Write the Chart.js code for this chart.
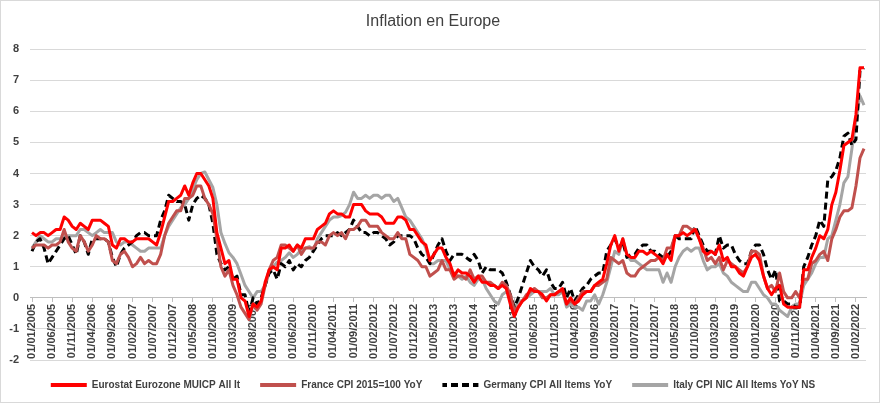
<!DOCTYPE html>
<html>
<head>
<meta charset="utf-8">
<script src="https://cdn.jsdelivr.net/npm/chart.js@4.4.1/dist/chart.umd.min.js"></script>
<style>
  html, body { margin: 0; padding: 0; background: #fff; }
  #wrap { width: 880px; height: 403px; }
</style>
</head>
<body>
<div id="wrap"><canvas id="chart"></canvas></div>
<script>
// Monthly YoY inflation, 01/2005 -> 04/2022
const firstYear = 2005;
const labelEvery = 5;
const yTicks = { min: -2, max: 8, step: 1 };

const eurozone = [
  2.1, 2.0, 2.1, 2.1, 2.0, 2.1, 2.2, 2.2, 2.6, 2.5, 2.3, 2.2,
  2.4, 2.3, 2.2, 2.5, 2.5, 2.5, 2.4, 2.3, 1.7, 1.6, 1.9, 1.9,
  1.8, 1.8, 1.9, 1.9, 1.9, 1.9, 1.8, 1.7, 2.1, 2.6, 3.1, 3.1,
  3.2, 3.3, 3.6, 3.3, 3.7, 4.0, 4.0, 3.8, 3.6, 3.2, 2.1, 1.6,
  1.1, 1.2, 0.6, 0.6, 0.0, -0.1, -0.6, -0.2, -0.3, -0.1, 0.5, 0.9,
  1.0, 0.9, 1.6, 1.6, 1.7, 1.5, 1.7, 1.6, 1.9, 1.9, 1.9, 2.2,
  2.3, 2.4, 2.7, 2.8, 2.7, 2.7, 2.6, 2.6, 3.0, 3.0, 3.0, 2.8,
  2.7, 2.7, 2.7, 2.6, 2.4, 2.4, 2.4, 2.6, 2.6, 2.5, 2.2, 2.2,
  2.0, 1.8, 1.7, 1.2, 1.4, 1.6, 1.6, 1.3, 1.1, 0.7, 0.9, 0.8,
  0.8, 0.7, 0.5, 0.7, 0.5, 0.5, 0.4, 0.4, 0.3, 0.4, 0.3, -0.2,
  -0.6, -0.3, -0.1, 0.0, 0.3, 0.2, 0.2, 0.1, -0.1, 0.1, 0.1, 0.2,
  0.3, -0.2, 0.0, -0.2, -0.1, 0.1, 0.2, 0.2, 0.4, 0.5, 0.6, 1.1,
  1.7, 2.0, 1.5, 1.9, 1.4, 1.3, 1.3, 1.5, 1.5, 1.4, 1.5, 1.4,
  1.3, 1.1, 1.4, 1.2, 2.0, 2.0, 2.1, 2.0, 2.1, 2.2, 1.9, 1.5,
  1.4, 1.5, 1.4, 1.7, 1.2, 1.3, 1.0, 1.0, 0.8, 0.7, 1.0, 1.3,
  1.4, 1.2, 0.7, 0.3, 0.1, 0.3, 0.4, -0.2, -0.3, -0.3, -0.3, -0.3,
  0.9, 0.9, 1.3, 1.6, 2.0, 1.9, 2.2, 3.0, 3.4, 4.1, 4.9, 5.0,
  5.1, 5.9, 7.4, 7.4
];

const france = [
  1.6, 1.7, 1.7, 1.7, 1.6, 1.7, 1.7, 1.8, 2.2, 1.8, 1.6, 1.5,
  2.0, 1.8, 1.5, 1.7, 2.0, 1.9, 1.9, 1.8, 1.2, 1.1, 1.4, 1.5,
  1.3, 1.0, 1.1, 1.3, 1.1, 1.2, 1.1, 1.1, 1.4, 2.0, 2.4, 2.6,
  2.8, 2.8, 3.2, 3.2, 3.3, 3.6, 3.6, 3.2, 3.0, 2.7, 1.9, 1.0,
  0.7, 0.9, 0.4, 0.1, -0.3, -0.5, -0.7, -0.2, -0.4, -0.2, 0.4, 0.9,
  1.2, 1.3, 1.7, 1.7, 1.6, 1.5, 1.7, 1.4, 1.6, 1.6, 1.6, 1.8,
  1.8, 1.7, 2.0, 2.1, 2.0, 2.1, 1.9, 2.2, 2.2, 2.3, 2.5, 2.5,
  2.3, 2.3, 2.3, 2.1, 2.0, 1.9, 1.9, 2.1, 1.9, 1.9, 1.4, 1.3,
  1.2, 1.0, 1.0, 0.7, 0.8, 0.9, 1.2, 0.9, 0.9, 0.6, 0.7, 0.7,
  0.6, 0.9, 0.6, 0.7, 0.7, 0.5, 0.5, 0.4, 0.3, 0.5, 0.4, 0.1,
  -0.4, -0.3, -0.1, 0.1, 0.2, 0.3, 0.2, 0.0, 0.0, 0.1, 0.1, 0.2,
  0.2, -0.2, -0.1, -0.2, 0.0, 0.2, 0.2, 0.2, 0.4, 0.4, 0.5, 0.6,
  1.3, 1.2, 1.1, 1.2, 0.8, 0.7, 0.7, 0.9, 1.0, 1.1, 1.2, 1.2,
  1.3, 1.2, 1.6, 1.6, 2.0, 2.0, 2.3, 2.3, 2.2, 2.2, 1.9, 1.6,
  1.2, 1.3, 1.1, 1.3, 0.9, 1.2, 1.1, 1.0, 0.9, 0.8, 1.0, 1.5,
  1.5, 1.4, 0.7, 0.3, 0.4, 0.2, 0.8, 0.2, 0.0, 0.0, 0.2, 0.0,
  0.6, 0.6, 1.1, 1.2, 1.4, 1.5, 1.2, 1.9, 2.2, 2.6, 2.8, 2.8,
  2.9, 3.6, 4.5, 4.8
];

const germany = [
  1.5, 1.8, 1.9, 1.6, 1.1, 1.3, 1.5, 1.7, 1.9, 2.0, 1.7, 1.4,
  2.0, 1.8, 1.4, 1.9, 1.9, 1.9, 1.9, 1.8, 1.3, 1.0, 1.4, 1.6,
  1.7, 1.8, 2.0, 2.1, 2.1, 2.0, 2.0, 2.0, 2.5, 2.8, 3.3, 3.2,
  3.1, 3.1, 3.0, 2.5, 3.0, 3.2, 3.3, 3.2, 3.0, 2.4, 1.4, 1.1,
  0.9, 1.0, 0.6, 0.7, 0.1, 0.1, -0.5, 0.0, -0.2, 0.0, 0.4, 0.8,
  0.9, 0.6, 1.1, 1.0, 1.2, 0.9, 1.1, 1.0, 1.2, 1.3, 1.5, 1.7,
  1.9, 2.0, 2.0, 2.0, 2.1, 2.0, 2.1, 2.2, 2.5, 2.3, 2.1, 2.1,
  2.0, 2.1, 2.1, 2.0, 1.9, 1.7, 1.8, 2.0, 2.0, 2.0, 2.0, 1.9,
  1.6, 1.4, 1.3, 1.1, 1.4, 1.7, 1.9, 1.5, 1.2, 1.4, 1.4, 1.4,
  1.3, 1.2, 1.4, 1.2, 0.8, 1.0, 0.9, 0.9, 0.9, 0.8, 0.5, 0.1,
  -0.3, 0.0, 0.4, 0.8, 1.2, 1.0, 0.9, 0.7, 0.9, 0.5, 0.3, 0.3,
  0.5, 0.0, 0.3, -0.1, 0.1, 0.3, 0.4, 0.6, 0.7, 0.8, 0.8, 1.5,
  1.7, 1.9, 1.6, 1.8, 1.3, 1.4, 1.4, 1.6, 1.7, 1.7, 1.5, 1.5,
  1.4, 1.3, 1.3, 1.5, 2.0, 1.9, 1.9, 1.9, 1.9, 2.3, 2.0, 1.7,
  1.5, 1.5, 1.4, 2.0, 1.6, 1.7, 1.7, 1.4, 1.2, 1.1, 1.1, 1.5,
  1.7, 1.7, 1.4, 0.9, 0.6, 0.9, -0.1, -0.1, -0.2, -0.2, -0.3, -0.3,
  1.0, 1.3, 1.7, 2.0, 2.5, 2.3, 3.8, 3.9, 4.1, 4.5, 5.2, 5.3,
  4.9, 5.1, 7.3, 7.4
];

const italy = [
  1.6, 1.8, 2.0, 1.9, 1.8, 1.8, 1.9, 1.9, 2.0, 2.0, 2.0, 2.0,
  2.2, 2.2, 2.1, 2.0, 2.1, 2.2, 2.1, 2.1, 2.1, 1.8, 1.7, 1.8,
  1.8, 1.7, 1.6, 1.5, 1.5, 1.6, 1.6, 1.6, 1.6, 2.0, 2.3, 2.5,
  2.7, 2.9, 3.0, 3.2, 3.5, 3.8, 4.0, 4.05, 3.8, 3.55, 3.0, 2.1,
  1.75, 1.45, 1.3, 1.1, 0.75, 0.4, 0.2, 0.0, 0.2, 0.2, 0.4, 0.8,
  1.0, 1.15, 1.2, 1.3, 1.45, 1.3, 1.4, 1.55, 1.6, 1.65, 1.5, 1.9,
  2.1, 2.3, 2.5, 2.6, 2.6, 2.65, 2.75, 3.0, 3.4, 3.2, 3.2, 3.3,
  3.2, 3.3, 3.3, 3.2, 3.3, 3.3, 3.1, 3.2, 2.9, 2.6, 2.5, 2.3,
  2.1, 1.9, 1.6, 1.1, 1.1, 1.2, 1.2, 1.2, 0.9, 0.8, 0.7, 0.6,
  0.7, 0.5, 0.4, 0.6, 0.6, 0.3, 0.1, -0.1, -0.2, 0.1, 0.2, 0.1,
  -0.4, -0.1, -0.1, 0.0, 0.1, 0.2, 0.2, 0.2, 0.2, 0.3, 0.1, 0.1,
  0.2, -0.3, -0.2, -0.3, -0.3, -0.4, -0.1, -0.1, 0.1, -0.2, 0.1, 0.5,
  1.0, 1.5, 1.4, 1.9, 1.4, 1.2, 1.2, 1.1, 1.0, 0.9, 0.9, 0.9,
  0.9, 0.5, 0.8, 0.5, 1.0, 1.3, 1.5, 1.6, 1.5, 1.6, 1.6, 1.2,
  0.9, 1.0, 1.0, 1.1, 0.8, 0.7, 0.5, 0.4, 0.3, 0.2, 0.2, 0.5,
  0.5, 0.3, 0.1, 0.0, -0.2, -0.2, -0.4, -0.5, -0.6, -0.3, -0.2, -0.2,
  0.4, 0.6, 0.8, 1.1, 1.3, 1.3, 1.9, 2.0, 2.5, 3.0, 3.7, 3.9,
  4.8, 5.7, 6.5, 6.2
];

// category labels 01/MM/YYYY
const months = [];
for (let i = 0; i < eurozone.length; i++) {
  const mm = String(i % 12 + 1).padStart(2, '0');
  months.push('01/' + mm + '/' + (firstYear + Math.floor(i / 12)));
}

const txt = '#404040';
const gridCol = '#d9d9d9';

const frame = {
  id: 'frame',
  beforeDraw(chart) {
    const c = chart.ctx;
    c.save();
    c.fillStyle = '#fff';
    c.fillRect(0, 0, chart.width, chart.height);
    c.strokeStyle = '#d9d9d9';
    c.lineWidth = 1;
    c.strokeRect(0.5, 0.5, chart.width - 1, chart.height - 1);
    c.restore();
  }
};

// dashed fill for the Germany legend swatch
function dashPattern(color) {
  const p = document.createElement('canvas');
  p.width = 11; p.height = 4;
  const pc = p.getContext('2d');
  pc.fillStyle = color;
  pc.fillRect(0, 0, 7, 4);
  return ctx.createPattern(p, 'repeat');
}

function line(label, data, color, width, dash) {
  return {
    label: label,
    data: data,
    borderColor: color,
    backgroundColor: color,
    borderWidth: width,
    borderDash: dash || [],
    pointRadius: 0,
    tension: 0,
    borderJoinStyle: 'round'
  };
}

const ctx = document.getElementById('chart').getContext('2d');
new Chart(ctx, {
  type: 'line',
  data: {
    labels: months,
    datasets: [
      line('Eurostat Eurozone MUICP All It', eurozone, '#ff0000', 3),
      line('France CPI 2015=100 YoY', france, '#c0504d', 3),
      line('Germany CPI All Items YoY', germany, '#000000', 3, [7, 4]),
      line('Italy CPI NIC All Items YoY NS', italy, '#a5a5a5', 3)
    ]
  },
  options: {
    responsive: true,
    maintainAspectRatio: false,
    animation: false,
    layout: { padding: { left: 0, right: 14, top: 0, bottom: 3 } },
    plugins: {
      title: {
        display: true,
        text: 'Inflation en Europe',
        color: txt,
        font: { family: 'Liberation Sans', size: 16, weight: 'normal' },
        padding: { top: 12, bottom: 18 }
      },
      legend: {
        position: 'bottom',
        labels: {
          color: txt,
          font: { family: 'Liberation Sans', size: 10, weight: 'bold' },
          boxWidth: 36,
          boxHeight: 4,
          padding: 20,
          generateLabels: chart => {
            const items = Chart.defaults.plugins.legend.labels.generateLabels(chart);
            items.forEach(it => {
              const ds = chart.data.datasets[it.datasetIndex];
              it.lineWidth = 0;
              it.fillStyle = ds.borderDash.length ? dashPattern(ds.borderColor) : ds.borderColor;
            });
            return items;
          }
        }
      },
      tooltip: { enabled: false }
    },
    scales: {
      x: {
        position: { y: 0 },
        offset: true,
        grid: {
          drawOnChartArea: false,
          drawTicks: true,
          tickLength: 4,
          color: c => (c.index % labelEvery === 0 ? '#bfbfbf' : 'rgba(0,0,0,0)')
        },
        border: { display: true, color: '#bfbfbf' },
        ticks: {
          autoSkip: false,
          minRotation: 90,
          maxRotation: 90,
          padding: 2,
          color: txt,
          font: { family: 'Liberation Sans', size: 11, weight: 'bold' },
          callback: function (v, i) { return i % labelEvery === 0 ? this.getLabelForValue(v) : ''; }
        }
      },
      y: {
        min: yTicks.min,
        max: yTicks.max,
        grid: { color: gridCol, drawTicks: false },
        border: { display: false },
        afterFit: s => { s.width = 30; },
        ticks: {
          stepSize: yTicks.step,
          padding: 11,
          color: txt,
          font: { family: 'Liberation Sans', size: 11, weight: 'bold' }
        }
      }
    }
  },
  plugins: [frame]
});
</script>
</body>
</html>
